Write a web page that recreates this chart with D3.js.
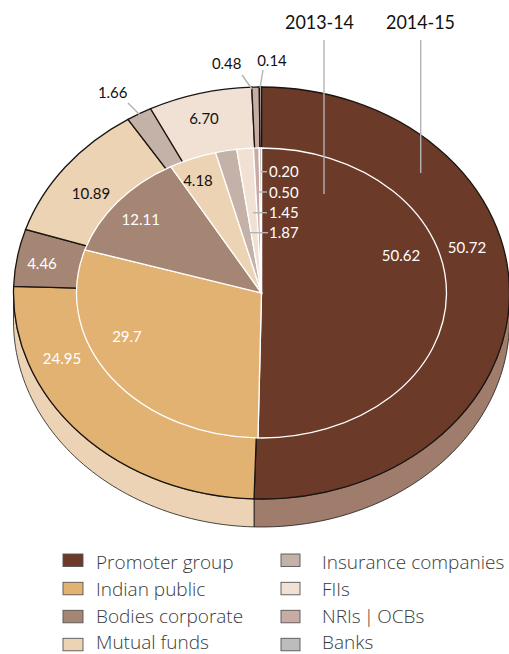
<!DOCTYPE html>
<html><head><meta charset="utf-8">
<script src="https://cdn.jsdelivr.net/npm/d3@7"></script>
<style>
html,body{margin:0;padding:0;background:#fff;overflow:hidden}
svg{display:block}
.sl{vector-effect:non-scaling-stroke}
</style></head><body><svg id="c" width="509" height="654"></svg>
<script>
const categories=["Promoter group","Indian public","Bodies corporate","Mutual funds","Insurance companies","FIIs","NRIs\u2009|\u2009OCBs","Banks"];
const values2015=[50.72,24.95,4.46,10.89,1.66,6.70,0.48,0.14];
const values2014=[50.62,29.7,12.11,4.18,1.87,1.45,0.50,0.20];
const labels2015=["50.72","24.95","4.46","10.89","1.66","6.70","0.48","0.14"];
const labels2014=["50.62","29.7","12.11","4.18","1.87","1.45","0.50","0.20"];
const colors=["#6b3a29","#e2b272","#a58574","#ecd3b4","#c4b1a8","#f0e1d4","#c9aba5","#bcbcbe"];
const sideColors=["#9f7c6c","#edd3b5"];
const yearLabels=["2013-14","2014-15"];

const cx=261.5,cy=293,rx=248,ry=206,irx=185,iry=145,depth=28;
const svg=d3.select("#c");
const labelFont="Lato, sans-serif", legendFont="'Open Sans', sans-serif";
const pie=d3.pie().sort(null).value(d=>d);
// slight perspective pull of the outer ring towards the viewer's front
const warp=a=>a-0.015*Math.sin(a/2);
const outer=pie(values2015).map(d=>({...d,startAngle:warp(d.startAngle),endAngle:warp(d.endAngle)}));
const inner=pie(values2014);
const pt=a=>[cx+Math.sin(a)*rx,cy-Math.cos(a)*ry];

// extruded side
const split=outer[0].endAngle;
const sideShape=(a0,a1)=>{
  const as=d3.range(0,61).map(i=>a0+(a1-a0)*i/60);
  const top=as.map(pt), bot=top.map(p=>[p[0],p[1]+depth]).reverse();
  return d3.line()(top.concat(bot))+"Z";
};
const g0=svg.append("g");
[[Math.PI/2,split],[split,Math.PI*1.5]].forEach((s,i)=>{
  g0.append("path").attr("d",sideShape(s[0],s[1])).attr("fill",sideColors[i]).attr("stroke","#1a1a1a").attr("stroke-width",0.8);
});

// outer pie
const gO=svg.append("g").attr("transform",`translate(${cx},${cy}) scale(${rx/100},${ry/100})`);
gO.selectAll("path").data(outer).join("path")
  .attr("class","sl")
  .attr("d",d3.arc().innerRadius(0).outerRadius(100))
  .attr("fill",(d,i)=>colors[i]).attr("stroke","#1a1510").attr("stroke-width",1.3);

// inner pie
const gI=svg.append("g").attr("transform",`translate(${cx},${cy}) scale(${irx/100},${iry/100})`);
gI.selectAll("path").data(inner).join("path")
  .attr("class","sl")
  .attr("d",d3.arc().innerRadius(0).outerRadius(100))
  .attr("fill",(d,i)=>colors[i]).attr("stroke","#fff").attr("stroke-width",1.3);

// leader lines
const lead=(x1,y1,x2,y2)=>svg.append("line").attr("x1",x1).attr("y1",y1).attr("x2",x2).attr("y2",y2).attr("stroke","#b3b3b3").attr("stroke-width",1.4);
lead(324,40,324,194);lead(420.7,40,420.7,173);
lead(242,75,252,89);lead(263,70,260,88);lead(128,103,146,121);
lead(261,171.7,267,171.7);lead(257,192,267,192);lead(253,212.7,267,212.7);lead(246,232.7,268,232.7);

// labels
const txt=(x,y,t,fill,size=15,anchor="middle",font=labelFont)=>svg.append("text").attr("x",x).attr("y",y).attr("text-anchor",anchor)
  .attr("fill",fill).attr("font-family",font).attr("font-size",size).text(t);
txt(319.5,29,yearLabels[0],"#111",19.5).attr("textLength",69).attr("lengthAdjust","spacingAndGlyphs");
txt(420.5,29,yearLabels[1],"#111",19.5).attr("textLength",69).attr("lengthAdjust","spacingAndGlyphs");
const outerPos=[[467,253,"#fff"],[62,364,"#fff"],[42,268.5,"#fff"],[91,198.5,"#111"],[112.7,97.5,"#111"],[204,124,"#111"],[226.7,68.5,"#111"],[272,65.5,"#111"]];
outerPos.forEach((p,i)=>txt(p[0],p[1],labels2015[i],p[2]));
const innerPos=[[401,261,"#fff"],[127,342,"#fff"],[140.7,224.5,"#fff"],[198,185.5,"#111"]];
innerPos.forEach((p,i)=>txt(p[0],p[1],labels2014[i],p[2]));
[[238,4],[218,5],[197.5,6],[177,7]].forEach(p=>txt(269,p[0],labels2014[p[1]],"#fff",15,"start"));

// legend
const swatchY=[554,582.3,610.3,638.3];
const textY=[568.5,596,623,649];
categories.forEach((c,i)=>{
  const col=i<4?0:1,r=i%4;
  const x=col?281:63, tx=col?322:96;
  svg.append("rect").attr("x",x).attr("y",swatchY[r]).attr("width",col?19:20).attr("height",12.5)
    .attr("fill",colors[i]).attr("stroke","#555").attr("stroke-width",0.9);
  txt(tx,textY[r],c,"#3a3a3a",19,"start",legendFont).attr("font-weight",300);
});
</script></body></html>
